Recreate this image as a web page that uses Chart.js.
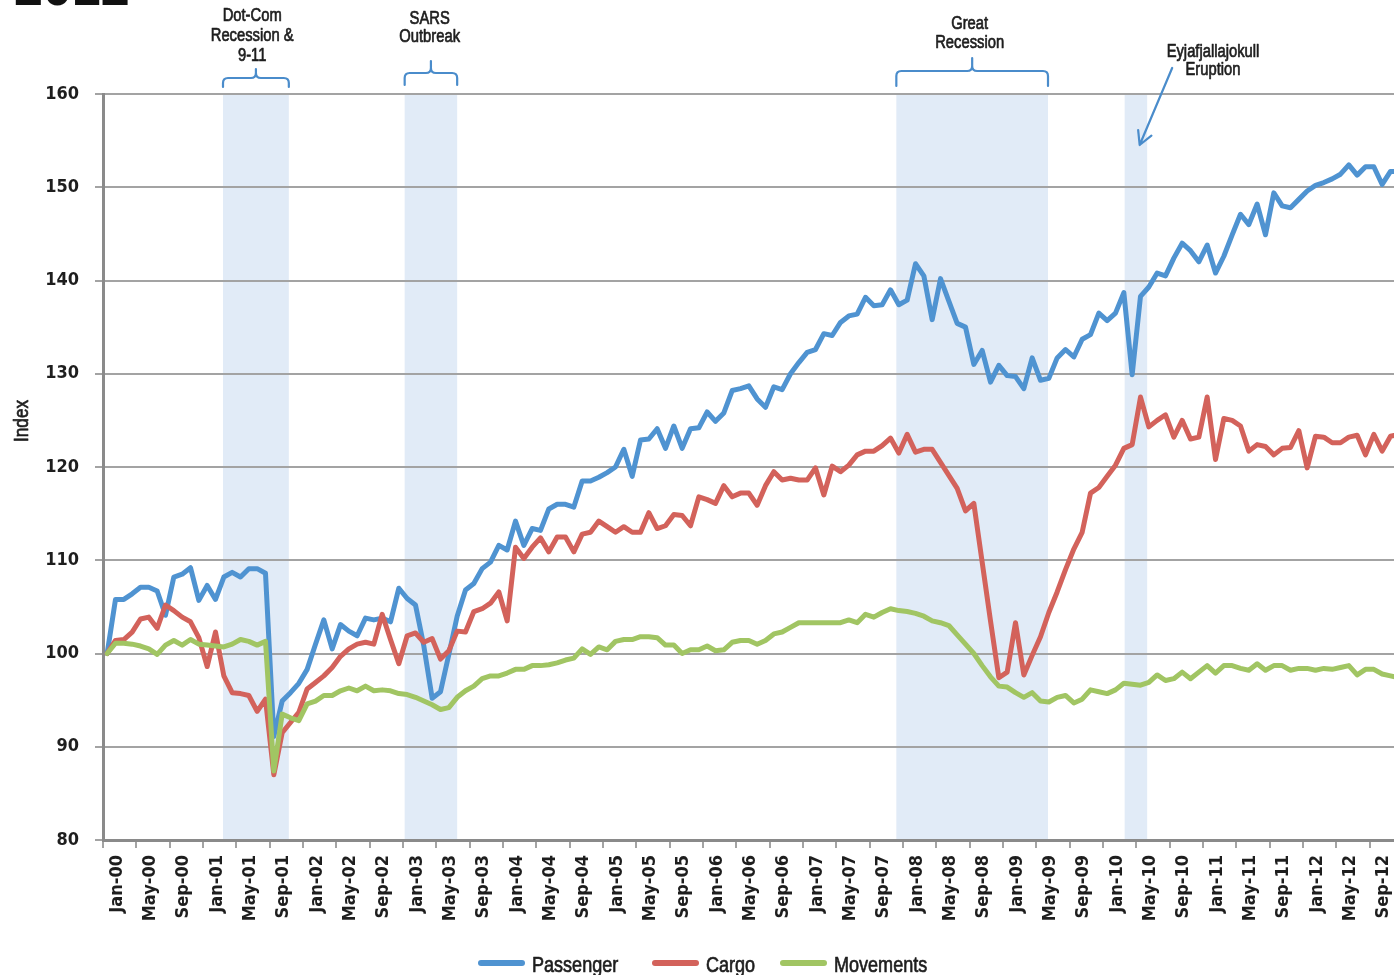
<!DOCTYPE html>
<html>
<head>
<meta charset="utf-8">
<script src="https://cdn.jsdelivr.net/npm/chart.js@4.4.1/dist/chart.umd.min.js"></script>
<style>
  html, body { margin: 0; padding: 0; background: #fff; overflow: hidden; }
  #wrap { position: relative; width: 1394px; height: 975px; overflow: hidden; }
  canvas { position: absolute; left: 0; top: 0; }
</style>
</head>
<body>
<div id="wrap"><canvas id="chart" width="1403" height="975"></canvas></div>
<script>
// ── Data: monthly index, Jan-00 = 100 ─────────────────────────────
const TICK_LABELS = [
  'Jan-00','May-00','Sep-00','Jan-01','May-01','Sep-01','Jan-02','May-02','Sep-02',
  'Jan-03','May-03','Sep-03','Jan-04','May-04','Sep-04','Jan-05','May-05','Sep-05',
  'Jan-06','May-06','Sep-06','Jan-07','May-07','Sep-07','Jan-08','May-08','Sep-08',
  'Jan-09','May-09','Sep-09','Jan-10','May-10','Sep-10','Jan-11','May-11','Sep-11',
  'Jan-12','May-12','Sep-12'
];

const PASSENGER = [
  100, 105.8, 105.8, 106.4, 107.1, 107.1, 106.7, 104.1, 108.2, 108.5,
  109.2, 105.7, 107.3, 105.8, 108.2, 108.7, 108.2, 109.1, 109.1, 108.6,
  91.1, 94.9, 95.8, 96.8, 98.3, 101.0, 103.6, 100.5, 103.1, 102.4,
  101.9, 103.8, 103.6, 103.8, 103.4, 107.0, 105.9, 105.2, 100.8, 95.2,
  95.9, 99.9, 104.0, 106.8, 107.5, 109.1, 109.8, 111.6, 111.1, 114.2,
  111.6, 113.4, 113.2, 115.5, 116.0, 116.0, 115.7, 118.5, 118.5, 118.9,
  119.4, 120.0, 121.9, 119.0, 122.9, 123.0, 124.1, 122.0, 124.4, 122.0,
  124.1, 124.2, 125.9, 124.9, 125.8, 128.2, 128.4, 128.7, 127.3, 126.4,
  128.6, 128.3, 130.0, 131.2, 132.3, 132.6, 134.3, 134.1, 135.5, 136.2,
  136.4, 138.2, 137.3, 137.4, 139.0, 137.4, 137.9, 141.8, 140.5, 135.8,
  140.2, 137.8, 135.4, 135.0, 131.0, 132.5, 129.1, 130.9, 129.8, 129.7,
  128.4, 131.7, 129.3, 129.5, 131.7, 132.6, 131.8, 133.7, 134.2, 136.5,
  135.7, 136.5, 138.7, 129.9, 138.3, 139.3, 140.8, 140.5, 142.4, 144.0,
  143.2, 142.0, 143.8, 140.8, 142.6, 144.9, 147.1, 146.0, 148.2, 144.9,
  149.4, 148.0, 147.8, 148.7, 149.6, 150.2, 150.5, 150.9, 151.4, 152.4,
  151.3, 152.2, 152.2, 150.3, 151.7, 151.7
];

const CARGO = [
  100, 101.4, 101.5, 102.3, 103.7, 103.9, 102.7, 105.2, 104.6, 103.9,
  103.4, 101.7, 98.6, 102.3, 97.6, 95.8, 95.7, 95.5, 93.8, 95.1,
  87.0, 91.5, 92.6, 93.7, 96.2, 96.9, 97.6, 98.5, 99.7, 100.5,
  101.0, 101.2, 101.0, 104.2, 101.5, 98.9, 101.9, 102.2, 101.2, 101.6,
  99.4, 100.3, 102.4, 102.3, 104.5, 104.8, 105.4, 106.6, 103.5, 111.4,
  110.2, 111.4, 112.4, 110.9, 112.5, 112.5, 110.9, 112.8, 113.0, 114.2,
  113.6, 113.0, 113.6, 113.0, 113.0, 115.1, 113.4, 113.7, 114.9, 114.8,
  113.7, 116.8, 116.5, 116.1, 118.0, 116.8, 117.2, 117.2, 115.9, 118.0,
  119.5, 118.6, 118.8, 118.6, 118.6, 119.9, 117.0, 120.1, 119.5, 120.2,
  121.3, 121.7, 121.7, 122.3, 123.1, 121.5, 123.5, 121.6, 121.9, 121.9,
  120.5, 119.1, 117.7, 115.3, 116.1, 109.8, 103.5, 97.4, 98.0, 103.3,
  97.7, 99.8, 101.8, 104.4, 106.6, 109.0, 111.2, 113.0, 117.2, 117.8,
  119.0, 120.2, 122.0, 122.4, 127.5, 124.3, 125.0, 125.6, 123.2, 125.0,
  123.0, 123.2, 127.5, 120.8, 125.2, 125.0, 124.4, 121.7, 122.4, 122.2,
  121.3, 122.0, 122.1, 123.9, 119.9, 123.3, 123.2, 122.6, 122.6, 123.2,
  123.4, 121.3, 123.5, 121.7, 123.3, 123.5
];

const MOVEMENTS = [
  100, 101.1, 101.1, 101.0, 100.8, 100.5, 99.9, 100.9, 101.4, 100.9,
  101.5, 101.0, 100.9, 100.8, 100.7, 101.0, 101.5, 101.3, 100.9, 101.3,
  87.4, 93.5, 93.1, 92.8, 94.6, 94.9, 95.5, 95.5, 96.0, 96.3,
  96.0, 96.5, 96.0, 96.1, 96.0, 95.7, 95.6, 95.3, 94.9, 94.5,
  94.0, 94.2, 95.3, 96.0, 96.5, 97.3, 97.6, 97.6, 97.9, 98.3,
  98.3, 98.7, 98.7, 98.8, 99.0, 99.3, 99.5, 100.5, 99.9, 100.7,
  100.4, 101.3, 101.5, 101.5, 101.8, 101.8, 101.7, 100.9, 100.9, 100.0,
  100.4, 100.4, 100.8, 100.3, 100.4, 101.2, 101.4, 101.4, 101.0, 101.4,
  102.1, 102.3, 102.8, 103.3, 103.3, 103.3, 103.3, 103.3, 103.3, 103.6,
  103.3, 104.2, 103.9, 104.4, 104.8, 104.6, 104.5, 104.3, 104.0, 103.5,
  103.3, 103.0, 102.0, 101.0, 100.0, 98.7, 97.5, 96.5, 96.4, 95.8,
  95.3, 95.8, 94.9, 94.8, 95.3, 95.5, 94.7, 95.1, 96.1, 95.9,
  95.7, 96.1, 96.8, 96.7, 96.6, 96.9, 97.7, 97.1, 97.3, 98.0,
  97.3, 98.0, 98.7, 97.9, 98.7, 98.7, 98.4, 98.2, 98.9, 98.2,
  98.7, 98.7, 98.2, 98.4, 98.4, 98.2, 98.4, 98.3, 98.5, 98.7,
  97.7, 98.3, 98.3, 97.8, 97.6, 97.4
];

const SERIES_NAMES  = ['Passenger', 'Cargo', 'Movements'];
const SERIES_COLORS = ['#4f93d1', '#d3625b', '#a1c563'];

// Shaded events, in months counted from Jan-00
const EVENT_START  = [14.4, 36.2, 95.2, 122.6];
const EVENT_END    = [22.3, 42.5, 113.4, 125.3];
const EVENT_LABELS = [
  ['Dot-Com', 'Recession &', '9-11'],
  ['SARS', 'Outbreak'],
  ['Great', 'Recession'],
  ['Eyjafjallajokull', 'Eruption']
];

// ── Styling ───────────────────────────────────────────────────────
const BAND_COLOR = '#e1ebf7';
const NOTE_COLOR = '#4a8ccb';
const TEXT_COLOR = '#1e1e1e';
const GRID_COLOR = '#a3a3a3';
const AXIS_COLOR = '#8a8a8a';
const LEGEND_X   = [478, 652, 780];   // left edge of each legend swatch

// where each event's label / brace sits above the plot
const NOTE_LAYOUT = [
  { cx: 17.9,  lines: [16, 36, 56], brace: { y: 78, end: 87, top: 69 } },
  { cx: 39.2,  lines: [19, 37],     brace: { y: 73, end: 85, top: 61 } },
  { cx: 104.0, lines: [24, 43],     brace: { y: 71, end: 86, top: 58 } },
  { cx: 133.2, lines: [52, 70],     arrow: { from: [128.3, 68], to: [124.4, 145] } }
];

function hasFont(name) {
  const c = document.createElement('canvas').getContext('2d');
  const s = 'Recession & Eyjafjallajokull 0123';
  c.font = '20px monospace';
  const a = c.measureText(s).width;
  c.font = `20px "${name}", monospace`;
  return c.measureText(s).width !== a;
}
const HAS_NARROW = hasFont('Liberation Sans Narrow');
const TICK_FAMILY = HAS_NARROW ? '"Liberation Sans Narrow"' : '"DejaVu Sans Condensed"';

// narrow text: real narrow face if installed, else squeezed Liberation Sans
function narrowText(ctx, text, x, y, size) {
  ctx.save();
  ctx.translate(x, y);
  if (HAS_NARROW) {
    ctx.font = `${size}px "Liberation Sans Narrow"`;
  } else {
    ctx.scale(0.82, 1);
    ctx.font = `${size}px "Liberation Sans", Arial, sans-serif`;
  }
  ctx.lineWidth = 0.7;
  ctx.strokeStyle = ctx.fillStyle;
  ctx.fillText(text, 0, 0);
  ctx.strokeText(text, 0, 0);
  ctx.restore();
}

function drawBrace(ctx, x1, x2, b) {
  const xc = (x1 + x2) / 2, r = 5;
  ctx.beginPath();
  ctx.moveTo(x1, b.end);
  ctx.lineTo(x1, b.y + r);
  ctx.quadraticCurveTo(x1, b.y, x1 + r, b.y);
  ctx.lineTo(xc - r, b.y);
  ctx.quadraticCurveTo(xc, b.y, xc, b.y - r);
  ctx.lineTo(xc, b.top);
  ctx.moveTo(xc, b.y - r);
  ctx.quadraticCurveTo(xc, b.y, xc + r, b.y);
  ctx.lineTo(x2 - r, b.y);
  ctx.quadraticCurveTo(x2, b.y, x2, b.y + r);
  ctx.lineTo(x2, b.end);
  ctx.stroke();
}

function drawArrow(ctx, x0, y0, x1, y1) {
  const ang = Math.atan2(y1 - y0, x1 - x0), len = 15, spread = 0.5;
  ctx.beginPath();
  ctx.moveTo(x0, y0);
  ctx.lineTo(x1, y1);
  ctx.moveTo(x1 - len * Math.cos(ang - spread), y1 - len * Math.sin(ang - spread));
  ctx.lineTo(x1, y1);
  ctx.lineTo(x1 - len * Math.cos(ang + spread), y1 - len * Math.sin(ang + spread));
  ctx.stroke();
}

// ── Event bands, notes, legend ────────────────────────────────────
const eventsPlugin = {
  id: 'events',
  beforeDraw(chart) {
    const { ctx, chartArea: a, scales: { x } } = chart;
    ctx.save();
    ctx.fillStyle = BAND_COLOR;
    EVENT_START.forEach((s, k) => {
      const x1 = x.getPixelForValue(s), x2 = x.getPixelForValue(EVENT_END[k]);
      ctx.fillRect(x1, a.top, x2 - x1, a.bottom - a.top);
    });
    ctx.restore();
  },
  afterDraw(chart) {
    const { ctx, scales: { x } } = chart;
    ctx.save();

    // cut-off heading at the very top
    ctx.fillStyle = '#111';
    ctx.font = 'bold 52px "Liberation Sans", Arial, sans-serif';
    ctx.textAlign = 'left';
    ctx.textBaseline = 'alphabetic';
    ctx.fillText('2012', 14, 5);

    // event notes
    ctx.lineCap = 'round';
    ctx.lineJoin = 'round';
    ctx.textAlign = 'center';
    ctx.textBaseline = 'middle';
    NOTE_LAYOUT.forEach((n, k) => {
      ctx.fillStyle = TEXT_COLOR;
      EVENT_LABELS[k].forEach((t, j) => narrowText(ctx, t, x.getPixelForValue(n.cx), n.lines[j], 18));
      ctx.strokeStyle = NOTE_COLOR;
      ctx.lineWidth = 2.2;
      if (n.brace) {
        drawBrace(ctx, x.getPixelForValue(EVENT_START[k]), x.getPixelForValue(EVENT_END[k]), n.brace);
      }
      if (n.arrow) {
        drawArrow(ctx, x.getPixelForValue(n.arrow.from[0]), n.arrow.from[1],
                       x.getPixelForValue(n.arrow.to[0]), n.arrow.to[1]);
      }
    });

    // y axis title
    ctx.save();
    ctx.translate(22, 421);
    ctx.rotate(-Math.PI / 2);
    ctx.fillStyle = TEXT_COLOR;
    narrowText(ctx, 'Index', 0, 0, 21);
    ctx.restore();

    // legend
    ctx.textAlign = 'left';
    ctx.textBaseline = 'alphabetic';
    SERIES_NAMES.forEach((t, k) => {
      const lx = LEGEND_X[k];
      ctx.strokeStyle = SERIES_COLORS[k];
      ctx.lineWidth = 6;
      ctx.beginPath();
      ctx.moveTo(lx + 3, 963);
      ctx.lineTo(lx + 44, 963);
      ctx.stroke();
      ctx.fillStyle = TEXT_COLOR;
      narrowText(ctx, t, lx + 54, 972, 22);
    });
    ctx.restore();
  }
};

// ── Chart ─────────────────────────────────────────────────────────
const monthly = vals => vals.map((v, i) => ({ x: i + 0.5, y: v }));

new Chart(document.getElementById('chart'), {
  type: 'line',
  data: {
    datasets: [
      { label: SERIES_NAMES[0], data: monthly(PASSENGER), borderColor: SERIES_COLORS[0], order: 2 },
      { label: SERIES_NAMES[1], data: monthly(CARGO),     borderColor: SERIES_COLORS[1], order: 1 },
      { label: SERIES_NAMES[2], data: monthly(MOVEMENTS), borderColor: SERIES_COLORS[2], order: 0 }
    ]
  },
  options: {
    responsive: false,
    animation: false,
    layout: { padding: { top: 94, left: 0, right: 0, bottom: 0 } },
    elements: {
      line: { borderWidth: 5, tension: 0, borderJoinStyle: 'round', borderCapStyle: 'round' },
      point: { radius: 0, hoverRadius: 0 }
    },
    plugins: { legend: { display: false }, tooltip: { enabled: false } },
    scales: {
      x: {
        type: 'linear', min: 0, max: 156,
        afterFit: s => { s.height = 135; s.paddingLeft = 0; s.paddingRight = 0; },
        grid: { drawOnChartArea: false, tickLength: 8, color: GRID_COLOR, lineWidth: 2 },
        border: { color: AXIS_COLOR, width: 3 },
        ticks: {
          stepSize: 4, autoSkip: false, minRotation: 90, maxRotation: 90,
          labelOffset: 14, padding: 7, color: TEXT_COLOR,
          font: { family: TICK_FAMILY, size: HAS_NARROW ? 22 : 18, weight: 'bold' },
          callback: v => TICK_LABELS[v / 4] ?? ''
        }
      },
      y: {
        min: 80, max: 160,
        afterFit: s => { s.width = 103; s.paddingTop = 0; s.paddingBottom = 0; },
        grid: { color: GRID_COLOR, lineWidth: 2, tickLength: 8 },
        border: { color: AXIS_COLOR, width: 3 },
        ticks: {
          stepSize: 10, padding: 16, color: TEXT_COLOR,
          font: { family: TICK_FAMILY, size: HAS_NARROW ? 22 : 18, weight: 'bold' }
        }
      }
    }
  },
  plugins: [eventsPlugin]
});
</script>
</body>
</html>
